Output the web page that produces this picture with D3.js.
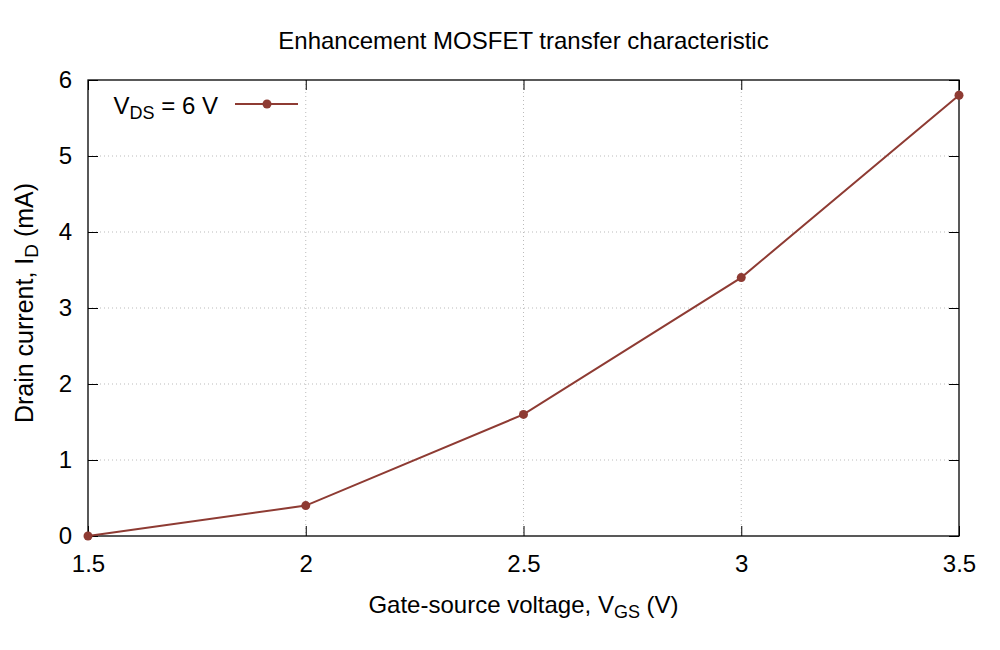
<!DOCTYPE html>
<html>
<head>
<meta charset="utf-8">
<script src="https://cdn.jsdelivr.net/npm/d3@7"></script>
<style>
  body { margin: 0; background: #fff; }
  text { font-family: "Liberation Sans", Arial, sans-serif; fill: #000; }
</style>
</head>
<body>
<div id="chart"></div>
<script>
// data
var vgs = [1.5, 2, 2.5, 3, 3.5];
var idrain = [0, 0.4, 1.6, 3.4, 5.8];
var xTicks = [1.5, 2, 2.5, 3, 3.5];
var yTicks = [0, 1, 2, 3, 4, 5, 6];

var width = 1000, height = 650;
var margin = {top: 80, right: 41, bottom: 114, left: 88};
var w = width - margin.left - margin.right,
    h = height - margin.top - margin.bottom;
var color = "#8e3b33";
var fs = "24px", subFs = "18px";

var svg = d3.select("#chart").append("svg")
  .attr("width", width).attr("height", height);
var g = svg.append("g").attr("transform", "translate(" + margin.left + "," + margin.top + ")");

var x = d3.scaleLinear().domain([1.5, 3.5]).range([0, w]);
var y = d3.scaleLinear().domain([0, 6]).range([h, 0]);

// grid
g.append("g").selectAll("line").data(xTicks.slice(1, -1)).enter().append("line")
  .attr("x1", function(d) { return x(d); }).attr("x2", function(d) { return x(d); })
  .attr("y1", 0).attr("y2", h)
  .attr("stroke", "#bbb").attr("stroke-width", 1).attr("stroke-dasharray", "1,3");
g.append("g").selectAll("line").data(yTicks.slice(1, -1)).enter().append("line")
  .attr("y1", function(d) { return y(d); }).attr("y2", function(d) { return y(d); })
  .attr("x1", 0).attr("x2", w)
  .attr("stroke", "#bbb").attr("stroke-width", 1).attr("stroke-dasharray", "1,3");

// axes with inward ticks, mirrored
function styleAxis(sel) {
  sel.attr("font-size", null).attr("font-family", null);
  sel.select(".domain").remove();
  sel.selectAll(".tick line").attr("stroke", "#000").attr("stroke-width", 1);
  sel.selectAll(".tick text").style("font-size", fs)
    .style("font-family", "'Liberation Sans', Arial, sans-serif");
}
g.append("g").attr("transform", "translate(0," + h + ")")
  .call(d3.axisBottom(x).tickValues(xTicks).tickFormat(d3.format("")).tickSizeInner(-10).tickPadding(19))
  .call(styleAxis);
g.append("g")
  .call(d3.axisLeft(y).tickValues(yTicks).tickFormat(d3.format("d")).tickSizeInner(-10).tickPadding(16))
  .call(styleAxis);
g.append("g")
  .call(d3.axisTop(x).tickValues(xTicks).tickFormat("").tickSizeInner(-10))
  .call(styleAxis);
g.append("g").attr("transform", "translate(" + w + ",0)")
  .call(d3.axisRight(y).tickValues(yTicks).tickFormat("").tickSizeInner(-10))
  .call(styleAxis);

g.append("rect").attr("width", w).attr("height", h)
  .attr("fill", "none").attr("stroke", "#000").attr("stroke-width", 1.3);

// series
var pts = vgs.map(function(d, i) { return [d, idrain[i]]; });
var line = d3.line().x(function(d) { return x(d[0]); }).y(function(d) { return y(d[1]); });
g.append("path").datum(pts).attr("d", line)
  .attr("fill", "none").attr("stroke", color).attr("stroke-width", 2);
g.selectAll(".pt").data(pts).enter().append("circle")
  .attr("class", "pt")
  .attr("cx", function(d) { return x(d[0]); })
  .attr("cy", function(d) { return y(d[1]); })
  .attr("r", 4.5).attr("fill", color);

// legend
var lg = svg.append("g").attr("transform", "translate(0,104)");
var lt = lg.append("text").attr("x", 218).attr("y", 10)
  .attr("text-anchor", "end").style("font-size", fs);
lt.append("tspan").text("V");
lt.append("tspan").attr("dy", "5").style("font-size", subFs).text("DS");
lt.append("tspan").attr("dy", "-5").text(" = 6 V");
lg.append("line").attr("x1", 235).attr("x2", 298).attr("y1", 0).attr("y2", 0)
  .attr("stroke", color).attr("stroke-width", 2);
lg.append("circle").attr("cx", 267).attr("cy", 0).attr("r", 4.5).attr("fill", color);

// title
svg.append("text").attr("x", margin.left + w / 2).attr("y", 49)
  .attr("text-anchor", "middle").style("font-size", fs)
  .text("Enhancement MOSFET transfer characteristic");

// x label
var xl = svg.append("text").attr("x", margin.left + w / 2).attr("y", 613)
  .attr("text-anchor", "middle").style("font-size", fs);
xl.append("tspan").text("Gate-source voltage, V");
xl.append("tspan").attr("dy", "5").style("font-size", subFs).text("GS");
xl.append("tspan").attr("dy", "-5").text(" (V)");

// y label
var yl = svg.append("text")
  .attr("transform", "translate(33,303) rotate(-90)")
  .attr("text-anchor", "middle").style("font-size", "25px");
yl.append("tspan").text("Drain current, I");
yl.append("tspan").attr("dy", "5").style("font-size", "19px").text("D");
yl.append("tspan").attr("dy", "-5").text(" (mA)");
</script>
</body>
</html>
